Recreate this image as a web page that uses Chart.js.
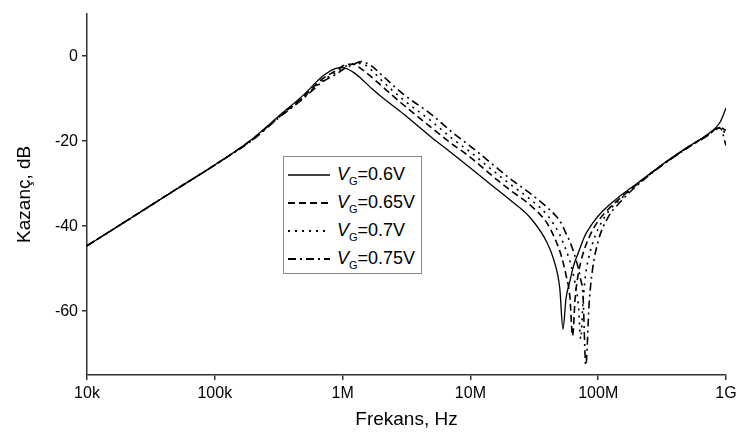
<!DOCTYPE html>
<html>
<head>
<meta charset="utf-8">
<script src="https://cdn.jsdelivr.net/npm/chart.js@4.4.1/dist/chart.umd.min.js"></script>
<style>
  html, body { margin: 0; padding: 0; background: #fff; }
  #wrap { position: relative; width: 743px; height: 445px; }
  #legend {
    position: absolute; left: 283px; top: 156px; width: 139px; height: 118px;
    border: 1px solid #888; box-sizing: border-box; background: #fff;
    font-family: "Liberation Sans", Arial, sans-serif; font-size: 18px; color: #000;
    padding-top: 4px;
  }
  #legend .row { height: 28px; display: flex; align-items: center; padding-left: 4px; }
  #legend svg { margin-right: 7px; }
  #legend sub { font-size: 11px; vertical-align: -5px; }
</style>
</head>
<body>
<div id="wrap">
  <canvas id="chart" width="743" height="445"></canvas>
  <div id="legend"></div>
</div>
<script>
// frequency grid, Hz
const freqHz = [
    1e4, 2e4, 5e4, 1e5, 2e5, 3e5, 5e5, 7e5, 9e5, 1e6,
    1.2e6, 1.4e6, 1.7e6, 2e6, 3e6, 5e6, 7e6, 1e7, 1.5e7, 2e7,
    3e7, 4e7, 4.5e7, 5e7, 5.3e7, 5.6e7, 6e7, 6.3e7, 6.6e7, 7e7,
    7.3e7, 7.6e7, 8e7, 8.5e7, 9e7, 1e8, 1.2e8, 1.5e8, 2e8, 3e8,
    5e8, 7e8, 9e8, 1e9
];

// gain in dB for each gate voltage
const gain060 = [
    -44.6, -38.9, -31.3, -25.6, -19.3, -14.7, -9.0, -4.7, -2.8, -2.7,
    -3.7, -5.3, -7.7, -9.5, -13.6, -19.2, -22.6, -26.3, -30.6, -33.6,
    -38.3, -44.0, -48.0, -54.5, -64.2, -57.0, -53.0, -50.2, -48.2, -46.2,
    -44.7, -43.3, -41.8, -40.5, -39.4, -37.6, -35.2, -32.8, -30.0, -26.0,
    -21.4, -18.6, -15.5, -12.2
];
const gain065 = [
    -44.6, -38.9, -31.3, -25.6, -19.4, -14.9, -9.4, -5.3, -3.3, -2.3,
    -1.9, -3.0, -5.0, -6.9, -11.5, -16.9, -20.4, -23.8, -28.3, -31.3,
    -35.3, -39.4, -42.4, -45.8, -48.4, -51.5, -56.5, -65.8, -57.0, -51.0,
    -48.5, -46.5, -44.5, -42.6, -41.0, -38.8, -36.0, -33.3, -30.2, -26.1,
    -21.5, -18.8, -16.8, -17.5
];
const gain070 = [
    -44.6, -38.9, -31.3, -25.6, -19.5, -15.0, -9.6, -5.7, -3.8, -2.8,
    -1.8, -1.7, -3.4, -5.6, -10.3, -15.4, -19.1, -22.6, -26.9, -29.9,
    -33.9, -37.4, -39.6, -42.0, -43.8, -45.6, -48.2, -50.6, -53.5, -58.5,
    -66.5, -58.0, -51.0, -47.0, -44.2, -40.6, -36.6, -33.6, -30.3, -26.1,
    -21.5, -18.8, -16.8, -18.5
];
const gain075 = [
    -44.6, -38.9, -31.3, -25.6, -19.6, -15.1, -9.8, -6.0, -4.2, -3.2,
    -2.0, -1.3, -2.4, -4.3, -9.0, -13.8, -17.6, -21.2, -25.5, -28.6,
    -32.5, -35.6, -37.1, -38.7, -40.1, -41.7, -43.6, -45.3, -47.2, -50.0,
    -52.6, -56.0, -72.7, -58.0, -50.5, -43.5, -37.8, -34.2, -30.5, -26.2,
    -21.6, -18.9, -16.9, -21.0
];

const seriesVoltages = ['0.6V', '0.65V', '0.7V', '0.75V'];
const seriesDashes = [[], [7, 4], [2, 5], [8, 4, 2, 4]];
const xTickValues = [1e4, 1e5, 1e6, 1e7, 1e8, 1e9];
const xTickLabels = ['10k', '100k', '1M', '10M', '100M', '1G'];
const yTickValues = [-60, -40, -20, 0];

const allGains = [gain060, gain065, gain070, gain075];

const datasets = allGains.map((g, i) => ({
    label: 'VG=' + seriesVoltages[i],
    data: freqHz.map((f, j) => ({ x: f, y: g[j] })),
    borderColor: '#000',
    borderWidth: i === 0 ? 1.3 : 1.6,
    borderDash: seriesDashes[i],
    pointRadius: 0,
    fill: false,
    cubicInterpolationMode: 'monotone'
}));

const tickFont = { family: '"Liberation Sans", Arial, sans-serif', size: 16 };
const titleFont = { family: '"Liberation Sans", Arial, sans-serif', size: 19 };

new Chart(document.getElementById('chart'), {
    type: 'line',
    data: { datasets },
    options: {
        responsive: false,
        animation: false,
        layout: { padding: { top: 5, right: 17, left: 0, bottom: 0 } },
        plugins: { legend: { display: false }, tooltip: { enabled: false } },
        scales: {
            x: {
                type: 'logarithmic',
                min: 1e4,
                max: 1e9,
                afterFit: s => { s.height = 70; },
                afterBuildTicks: s => { s.ticks = xTickValues.map(v => ({ value: v })); },
                grid: { drawOnChartArea: false, drawTicks: true, tickLength: 5, color: '#333', lineWidth: 1.5 },
                border: { display: true, color: '#333', width: 1.5 },
                ticks: {
                    color: '#000',
                    font: tickFont,
                    maxRotation: 0,
                    padding: 4,
                    callback: v => xTickLabels[xTickValues.indexOf(v)] || ''
                },
                title: { display: true, text: 'Frekans, Hz', color: '#000', font: titleFont, padding: { top: 0, bottom: 14 } }
            },
            y: {
                min: -75,
                max: 10,
                afterFit: s => { s.width = 87; },
                afterBuildTicks: s => { s.ticks = yTickValues.map(v => ({ value: v })); },
                grid: { drawOnChartArea: false, drawTicks: true, tickLength: 5, color: '#333', lineWidth: 1.5 },
                border: { display: true, color: '#333', width: 1.5 },
                ticks: { color: '#000', font: tickFont, padding: 4 },
                title: { display: true, text: 'Kazanç, dB', color: '#000', font: titleFont, padding: { top: 13, bottom: 0 } }
            }
        }
    }
});

// Legend with subscripted V_G
const legend = document.getElementById('legend');
seriesVoltages.forEach((v, i) => {
    const row = document.createElement('div');
    row.className = 'row';
    const dash = seriesDashes[i].join(' ');
    row.innerHTML = `
        <svg width="42" height="10"><line x1="0" y1="5" x2="42" y2="5" stroke="#000" stroke-width="${i === 0 ? 1.3 : 1.8}" ${dash ? `stroke-dasharray="${dash}"` : ''}/></svg>
        <span><i>V</i><sub>G</sub>=${v}</span>
    `;
    legend.appendChild(row);
});
</script>
</body>
</html>
